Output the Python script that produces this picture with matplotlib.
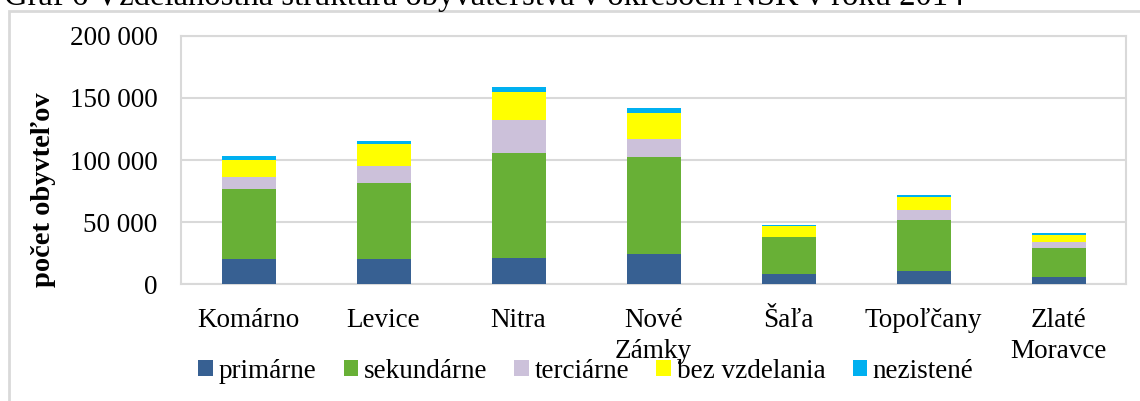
import matplotlib
matplotlib.use("Agg")
import matplotlib.pyplot as plt
from matplotlib.patches import Patch, Rectangle
from matplotlib.ticker import FuncFormatter
import numpy as np

plt.rcParams['font.family'] = ['Liberation Serif', 'DejaVu Serif']

categories = ["Komárno", "Levice", "Nitra", "Nové\nZámky", "Šaľa", "Topoľčany", "Zlaté\nMoravce"]
series_names = ["primárne", "sekundárne", "terciárne", "bez vzdelania", "nezistené"]
primarne = [20600, 20400, 21400, 24700, 8500, 10700, 6100]
sekundarne = [56200, 61200, 84400, 77900, 29600, 41400, 23400]
terciarne = [9700, 13800, 26600, 14500, 300, 8000, 4600]
bez_vzdelania = [13900, 17400, 22600, 20700, 8300, 10300, 5600]
nezistene = [3000, 2100, 4000, 4300, 1200, 1600, 1400]
colors = ["#376092", "#68B036", "#CCC1DA", "#FFFF00", "#00B0F0"]
yticks = [0, 50000, 100000, 150000, 200000]
title = "Graf 6 Vzdelanostná štruktúra obyvateľstva v okresoch NSK v roku 2014"
ylabel = "počet obyvteľov"

fig = plt.figure(figsize=(11.4, 4.01), dpi=100)
ax = fig.add_axes([181/1140, 1-284.3/401, (1126-181)/1140, (284.3-35.7)/401])

x = np.arange(len(categories))
bottom = np.zeros(len(categories))
for vals, c, name in zip([primarne, sekundarne, terciarne, bez_vzdelania, nezistene], colors, series_names):
    ax.bar(x, vals, width=0.4, bottom=bottom, color=c, label=name, zorder=3)
    bottom += np.array(vals)

ax.set_xlim(-0.5, len(categories) - 0.5)
ax.set_ylim(0, 200000)
ax.set_yticks(yticks)
ax.yaxis.set_major_formatter(FuncFormatter(lambda v, p: f"{int(v):,}".replace(",", " ")))
ax.set_xticks(x)
ax.set_xticklabels(categories, fontsize=19.5, linespacing=1.3)
ax.tick_params(axis='y', length=0, pad=17, labelsize=19.5)
ax.tick_params(axis='x', length=0, pad=17)
ax.grid(axis='y', color="#D9D9D9", linewidth=1.5, zorder=0)
for s in ax.spines.values():
    s.set_color("#D9D9D9")
    s.set_linewidth(1.5)

fig.text(44/1140, 1-190/401, ylabel, rotation=90, ha='center', va='center',
         fontsize=20.5, fontweight='bold')

fig.text(4/1140, 1-5/401, title, ha='left', va='baseline', fontsize=23.5)

fig.patches.append(Rectangle((9/1140, -0.1), 1.2, 1 - 11/401 + 0.1, transform=fig.transFigure,
                             fill=False, edgecolor="#D9D9D9", linewidth=2, zorder=0))

handles = [Patch(facecolor=c, label=n) for c, n in zip(colors, series_names)]
fig.legend(handles=handles, loc='center', bbox_to_anchor=(586/1140, 1-371/401), ncol=5,
           frameon=False, fontsize=19.5, handlelength=0.55, handleheight=0.55,
           handletextpad=0.2, columnspacing=1.0, borderaxespad=0)

fig.savefig("out.png", dpi=100)
